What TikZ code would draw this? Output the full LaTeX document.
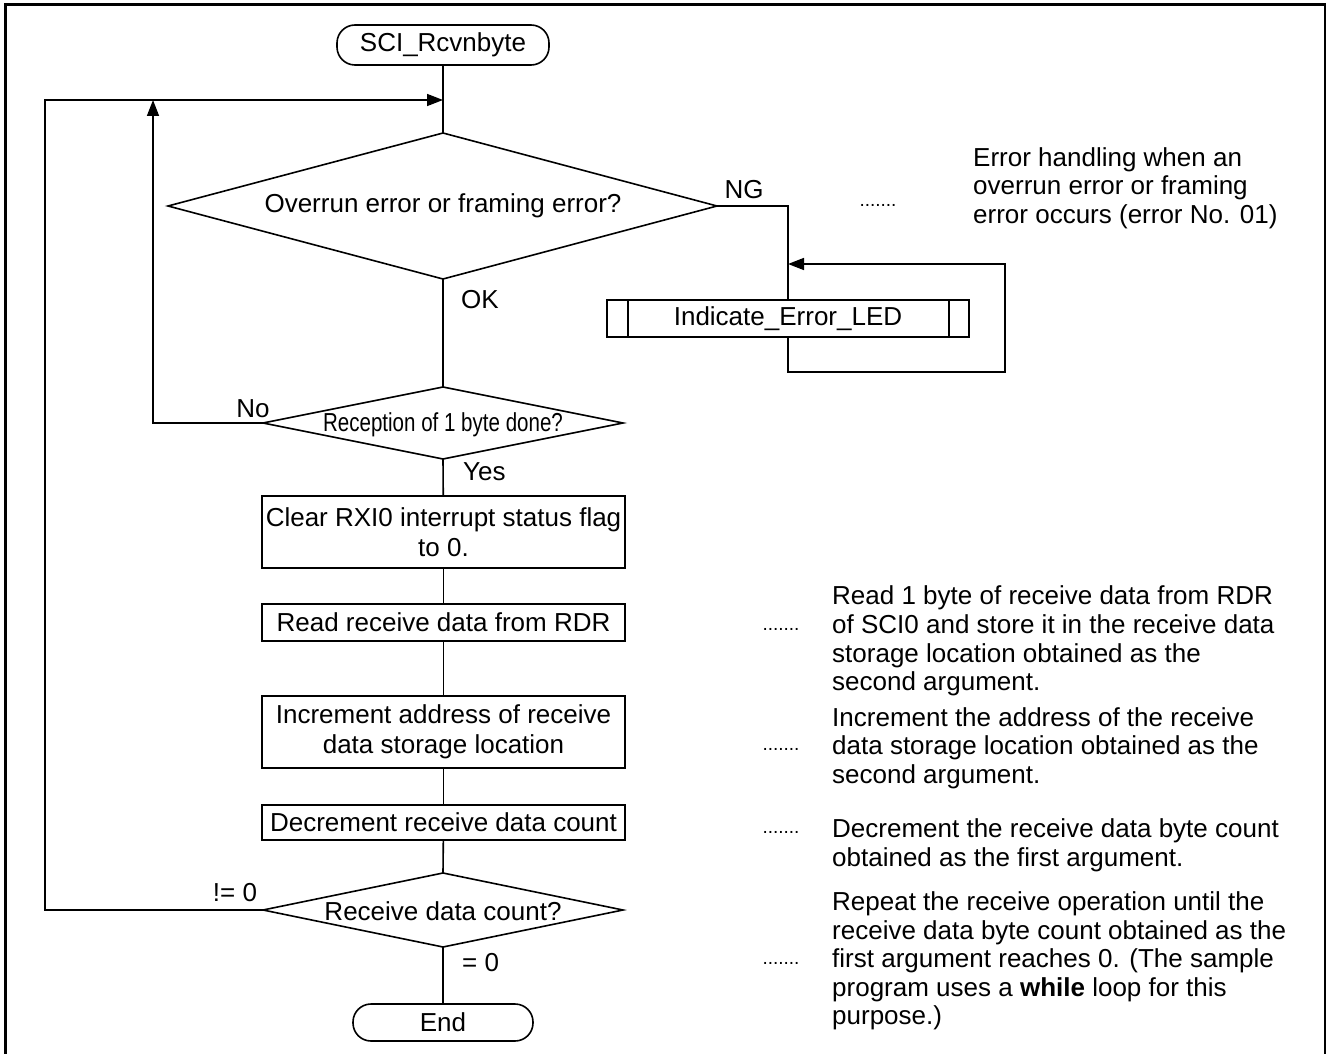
\documentclass[tikz,border=0pt]{standalone}
\usepackage{fontspec}
\setmainfont{Liberation Sans}
\usepackage{graphicx}
\usetikzlibrary{arrows.meta,calc}

\begin{document}
\begin{tikzpicture}[x=1pt,y=-1pt,
  every node/.style={inner sep=0pt,font=\fontsize{26}{30}\selectfont},
  flow/.style={line width=1.6pt},
  arr/.style={flow,-{Triangle[length=16pt,width=12pt]}},
  proc/.style={draw,line width=1.6pt,minimum width=363pt,align=center},
  term/.style={draw,line width=1.6pt,rounded corners=18pt},
  note/.style={anchor=west,align=left,font=\fontsize{26}{28.6}\selectfont},
  dots/.style={anchor=base,font=\fontsize{19}{20}\selectfont}
]
\useasboundingbox (0,0) rectangle (1326,1054);
% outer frame
\draw[line width=3pt] (5,5) rectangle (1325,1064);

% start terminal
\node[term,minimum width=212pt,minimum height=40pt] (start) at (443,45) {SCI\_Rcvnbyte};
\coordinate (loopjoin) at (443,100);

% decision: overrun / framing error
\coordinate (d1n) at (443,133);
\coordinate (d1e) at (717,206);
\coordinate (d1s) at (443,279);
\coordinate (d1w) at (168,206);
\draw[flow] (d1n) -- (d1e) -- (d1s) -- (d1w) -- cycle;
\node (d1) at (443,206) {Overrun error or framing error?};
\draw[flow] (start) -- (d1n);

% decision: reception done
\coordinate (d2n) at (443,387);
\coordinate (d2e) at (623,423);
\coordinate (d2s) at (443,459);
\coordinate (d2w) at (263,423);
\draw[flow] (d2n) -- (d2e) -- (d2s) -- (d2w) -- cycle;
\node (d2) at (443,425) {\scalebox{0.79}[1]{Reception of 1 byte done?}};
\draw[flow] (d1s) -- (d2n);
\node[anchor=west] (ok) at (461,300) {OK};

% processing steps
\node[proc,minimum height=72pt] (b1) at (443.5,532) {Clear RXI0 interrupt status flag\\to 0.};
\node[proc,minimum height=37pt] (b2) at (443.5,622.5) {Read receive data from RDR};
\node[proc,minimum height=72pt] (b3) at (443.5,732) {Increment address of receive\\data storage location};
\node[proc,minimum height=35pt] (b4) at (443.5,822.5) {Decrement receive data count};
\draw[flow] (d2s) -- (b1);
\node[anchor=west] (yes) at (463,472) {Yes};
\draw[flow] (b1) -- (b2);
\draw[flow] (b2) -- (b3);
\draw[flow] (b3) -- (b4);

% decision: remaining count
\coordinate (d3n) at (443,873);
\coordinate (d3e) at (623,910);
\coordinate (d3s) at (443,947);
\coordinate (d3w) at (263,910);
\draw[flow] (d3n) -- (d3e) -- (d3s) -- (d3w) -- cycle;
\node (d3) at (443,911) {Receive data count?};
\draw[flow] (b4) -- (d3n);

% end terminal
\node[term,minimum width=180pt,minimum height=37pt] (end) at (443,1022.5) {End};
\draw[flow] (d3s) -- (end);
\node[anchor=west] (eq) at (462,963) {= 0};

% loop back while count != 0
\coordinate (lx) at (45,100);
\draw[arr] (d3w) -| (lx) -- (loopjoin);
\node (ne) at (235,893) {!= 0};

% wait until a byte arrives
\coordinate (ny) at (153,100);
\draw[arr] (d2w) -| (ny);
\node (no) at (253,409) {No};

% error branch
\coordinate (ngc) at (788,206);
\node[draw,line width=1.6pt,minimum width=362pt,minimum height=37pt] (led) at (788,318.5) {Indicate\_Error\_LED};
\draw[flow] ([xshift=22pt]led.north west) -- ([xshift=22pt]led.south west);
\draw[flow] ([xshift=-21pt]led.north east) -- ([xshift=-21pt]led.south east);
\draw[flow] (d1e) -- (ngc) -- (led.north);
\node (ng) at (744,190) {NG};
\coordinate (lb) at (788,372);
\coordinate (lr) at (1005,372);
\coordinate (lt) at (1005,264);
\coordinate (li) at (788,264);
\draw[arr] (led.south) -- (lb) -- (lr) -- (lt) -- (li);

% remarks
\node[dots] (n1d) at (878,206) {.......};
\node[note] (n1) at (973,188) {Error handling when an\\overrun error or framing\\error occurs (error No. 01)};

\node[dots] (n2d) at (781,630) {.......};
\node[note] (n2) at (832,641) {Read 1 byte of receive data from RDR\\of SCI0 and store it in the receive data\\storage location obtained as the\\second argument.};

\node[dots] (n3d) at (781,750) {.......};
\node[note] (n3) at (832,748) {Increment the address of the receive\\data storage location obtained as the\\second argument.};

\node[dots] (n4d) at (781,833) {.......};
\node[note] (n4) at (832,845) {Decrement the receive data byte count\\obtained as the first argument.};

\node[dots] (n5d) at (781,964) {.......};
\node[note] (n5) at (832,961) {Repeat the receive operation until the\\receive data byte count obtained as the\\first argument reaches 0. (The sample\\program uses a \textbf{while} loop for this\\purpose.)};
\end{tikzpicture}
\end{document}
